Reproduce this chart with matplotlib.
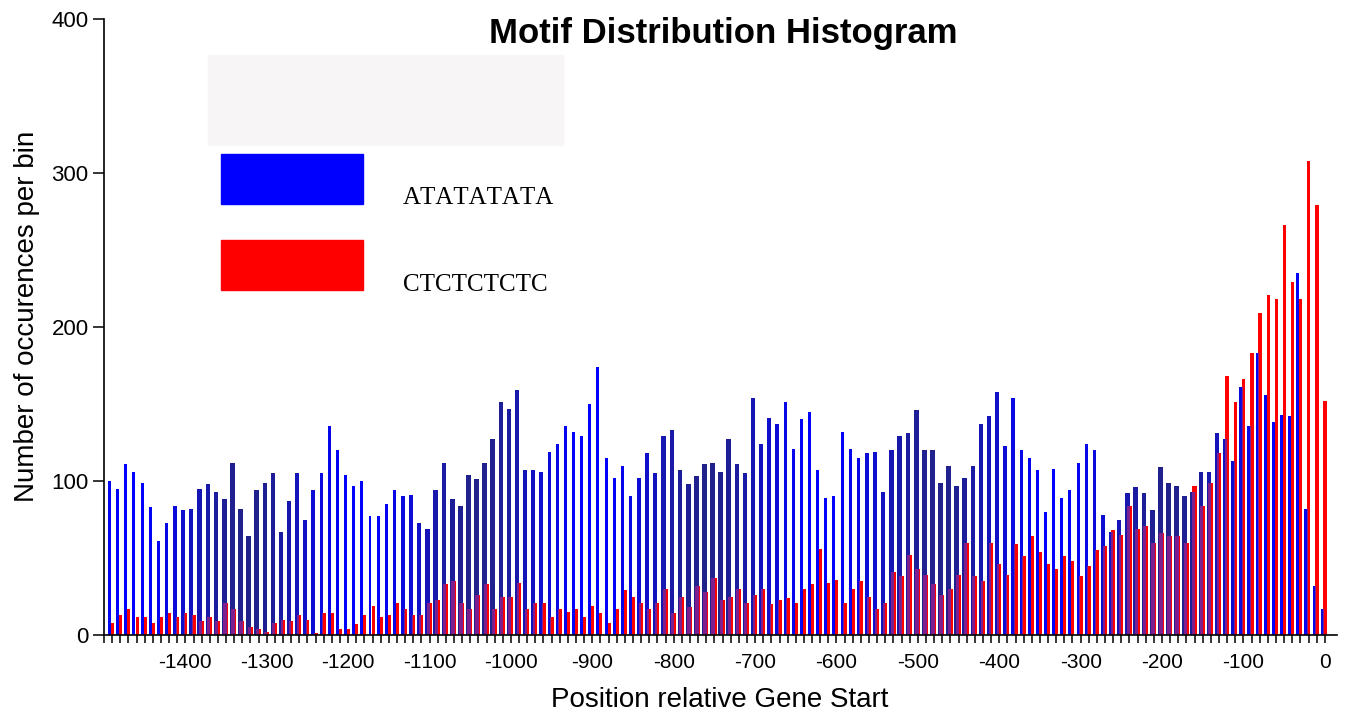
import numpy as np
import matplotlib
matplotlib.use('Agg')
import matplotlib.pyplot as plt
from matplotlib import font_manager
from matplotlib.patches import Rectangle

# bin centres, 10 bp bins upstream of the gene start
positions = np.arange(-1490, 1, 10)

# occurrences per bin, motif ATATATATA
atata = [100, 95, 111, 106, 99, 83, 61, 73, 84, 81, 82, 95, 98, 93, 88, 112, 82, 64, 94, 99,
         105, 67, 87, 105, 75, 94, 105, 136, 120, 104,
         97, 100, 77, 77, 85, 94, 90, 91, 73, 69, 94, 112, 88, 84, 104, 101, 112, 127, 151, 147,
         159, 107, 107, 106, 119, 124, 136, 132, 129, 150, 174,
         115, 102, 110, 90, 102, 118, 105, 129, 133, 107, 98, 103, 111, 112, 106, 127, 111, 105,
         154, 124, 141, 137, 151, 121, 140, 145, 107, 89, 90, 132,
         121, 115, 118, 119, 93, 120, 129, 131, 146, 120, 120, 99, 110, 97, 102, 110, 137, 142,
         158, 123, 154, 120, 115, 107, 80, 108, 89, 94, 112, 124, 120,
         78, 67, 75, 92, 96, 92, 81, 109, 99, 97, 90, 93, 106, 106, 131, 127, 113, 161, 136, 183,
         156, 138, 143, 142, 235, 82, 32, 17]

# occurrences per bin, motif CTCTCTCTC
ctctc = [8, 13, 17, 12, 12, 8, 12, 14, 12, 14, 13, 9, 12, 9, 21, 17, 9, 5, 4, 2, 8, 10, 9, 13,
         10, 1, 14, 14, 4,
         4, 7, 13, 19, 12, 13, 21, 17, 13, 13, 21, 23, 33, 35, 21, 17, 26, 33, 17, 25, 25, 34,
         17, 21, 21, 12, 17, 15, 17, 12, 19,
         14, 8, 17, 29, 25, 21, 17, 21, 30, 14, 25, 18, 32, 28, 37, 23, 25, 30, 21, 26, 30, 20,
         23, 24, 21, 30, 33, 56, 34, 36, 21,
         30, 35, 25, 17, 21, 41, 38, 52, 43, 39, 33, 26, 30, 39, 60, 38, 35, 60, 46, 39, 59, 51,
         64, 54, 46, 43, 51, 48, 38, 45, 55,
         58, 68, 65, 84, 69, 71, 60, 66, 64, 64, 60, 97, 84, 99, 118, 168, 151, 166, 183, 209,
         221, 218, 266, 229, 218, 308, 279, 152]

xticks = list(range(-1400, 1, 100))
yticks = [0, 100, 200, 300, 400]

plt.rcParams['font.family'] = ['Liberation Sans', 'DejaVu Sans']
plt.rcParams['axes.unicode_minus'] = False
plt.rcParams['text.kerning_factor'] = 6

installed = {f.name for f in font_manager.fontManager.ttflist}
if 'Liberation Sans Narrow' in installed:
    ytick_font, ytick_size = 'Liberation Sans Narrow', 18
else:
    ytick_font, ytick_size = 'Liberation Sans', 16

W, H = 1345, 717
fig = plt.figure(figsize=(W / 100, H / 100), dpi=100)
fig.patch.set_facecolor('white')
ax = fig.add_axes([104 / W, 1 - 635 / H, 1233 / W, 616 / H])

blue = np.array(atata, dtype=float)
red = np.array(ctctc, dtype=float)

# the two bar series slide in and out of each other along the axis,
# where they overlap the shared part turns purple and the blue darkens
k = np.arange(len(positions))
p = 0.5 * (1 + np.cos(2 * np.pi * (k - 16.8) / 28.3))
w = 3.6 + 2.6 * p
cb = positions - 3.2 + 1.1 * p
cr = positions + 0.6 - 1.1 * p
blue_cols = np.column_stack([0.13 * p, 0.13 * p, 1 - 0.45 * p])

ax.bar(cb, blue, width=w, color=blue_cols, linewidth=0)
ax.bar(cr, red, width=w, color='#ff0000', linewidth=0)
lo = np.maximum(cb - w / 2, cr - w / 2)
hi = np.minimum(cb + w / 2, cr + w / 2)
ov = np.clip(hi - lo, 0, None)
ax.bar(lo, np.minimum(blue, red), width=ov, align='edge', color='#7e1f8e', linewidth=0)

ax.set_xlim(-1498, 15)
ax.set_ylim(0, 400)
for s in ['top', 'right']:
    ax.spines[s].set_visible(False)
for s in ['left', 'bottom']:
    ax.spines[s].set_linewidth(1.2)

ax.set_xticks(xticks)
ax.set_xticks(np.arange(-1500, 1, 10), minor=True)
ax.set_yticks(yticks)
ax.tick_params(axis='x', which='both', direction='out', length=6, width=1.1,
               labelsize=15, pad=7)
ax.tick_params(axis='y', direction='out', length=8, width=1.1, pad=3)
for lab in ax.get_yticklabels():
    lab.set_family(ytick_font)
    lab.set_fontsize(ytick_size)

ax.set_xlabel('Position relative Gene Start', fontsize=20, va='center')
ax.xaxis.set_label_coords(0.4996, -0.105)
ax.set_ylabel('Number of occurences per bin', fontsize=20, va='center')
ax.yaxis.set_label_coords(-0.0625, 0.518)

fig.text(723 / W, 1 - 43 / H, 'Motif Distribution Histogram', ha='center',
         va='baseline', fontsize=25, fontweight='bold')

# legend block
fig.patches.append(Rectangle((208 / W, 1 - 145 / H), 355 / W, 90 / H,
                             transform=fig.transFigure, color='#f7f5f5', zorder=0))
fig.patches.append(Rectangle((221 / W, 1 - 204 / H), 142 / W, 50 / H,
                             transform=fig.transFigure, color='#0000ff'))
fig.patches.append(Rectangle((221 / W, 1 - 290 / H), 142 / W, 50 / H,
                             transform=fig.transFigure, color='#ff0000'))
fig.text(403 / W, 1 - 204 / H, 'ATATATATA', family='Liberation Serif', fontsize=18,
         va='baseline')
fig.text(403 / W, 1 - 291 / H, 'CTCTCTCTC', family='Liberation Serif', fontsize=18,
         va='baseline')

fig.savefig('out.png', dpi=100)
